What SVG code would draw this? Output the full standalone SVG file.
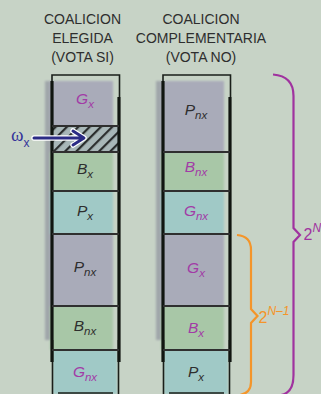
<svg xmlns="http://www.w3.org/2000/svg" width="321" height="394" viewBox="0 0 321 394">
  <defs>
    <style>
      .hdr { font-family: "Liberation Sans", Arial, sans-serif; font-size: 14px; fill: #2e2e2e; text-anchor: middle; }
      .lbl { font-family: "Liberation Sans", Arial, sans-serif; font-size: 15.5px; font-style: italic; text-anchor: middle; }
      .dark { fill: #2e2e2e; }
      .purp { fill: #a23ba6; }
      .sub { font-size: 11.5px; }
      .thick { stroke: #111611; stroke-width: 3.2; fill: none; }
      .thin { stroke: #1a1f1a; stroke-width: 1.6; fill: none; }
      .div { stroke: #2f2f2f; stroke-width: 2.2; }
      .gray { fill: #a9abb9; }
      .green { fill: #a8c7a7; }
      .teal { fill: #a0c9c6; }
      .brace { font-family: "Liberation Sans", Arial, sans-serif; font-size: 16px; }
    </style>
    <pattern id="hatch" width="8" height="8" patternUnits="userSpaceOnUse" patternTransform="rotate(45)">
      <rect width="8" height="8" fill="#a8b7b8"/>
      <rect x="0" y="0" width="2.2" height="8" fill="#2a2d2d"/>
    </pattern>
    <filter id="soft" x="-10%" y="-10%" width="120%" height="120%">
      <feGaussianBlur stdDeviation="1.2"/>
    </filter>
  </defs>

  <rect width="321" height="394" fill="#c7d3c6"/>

  <!-- column headers -->
  <g id="header-left">
    <text class="hdr" x="82.5" y="23.5">COALICION</text>
    <text class="hdr" x="82.5" y="42.5">ELEGIDA</text>
    <text class="hdr" x="82.5" y="61.5">(VOTA SI)</text>
  </g>
  <g id="header-right">
    <text class="hdr" x="201" y="23.5">COALICION</text>
    <text class="hdr" x="201" y="42.5">COMPLEMENTARIA</text>
    <text class="hdr" x="201" y="61.5">(VOTA NO)</text>
  </g>

  <!-- left column: elected coalition -->
  <g id="col-left">
    <g filter="url(#soft)">
      <rect x="45" y="81" width="68" height="259" fill="#a0a6aa"/>
      <rect class="gray" x="50" y="81" width="63" height="45"/>
      <rect class="green" x="50" y="152" width="63" height="39"/>
      <rect class="teal" x="50" y="191" width="63" height="43"/>
      <rect class="gray" x="50" y="234" width="63" height="72"/>
      <rect class="green" x="50" y="306" width="63" height="44"/>
      <rect class="teal" x="53" y="350" width="64" height="44"/>
    </g>
    <rect x="52" y="126" width="66" height="26" fill="url(#hatch)"/>
    <path class="thin" d="M52 94 V75 H119.5 V97 M52.5 340 V394 M118.5 340 V394 M58 393 H113"/>
    <path class="thick" d="M52 81 V362 M119 97 V362"/>
    <g class="div">
      <line x1="52" y1="126" x2="119" y2="126"/>
      <line x1="52" y1="152" x2="119" y2="152"/>
      <line x1="52" y1="191" x2="119" y2="191"/>
      <line x1="52" y1="234" x2="119" y2="234"/>
      <line x1="52" y1="306" x2="119" y2="306"/>
      <line x1="52" y1="350" x2="119" y2="350"/>
    </g>
  </g>

  <!-- right column: complementary coalition -->
  <g id="col-right">
    <g filter="url(#soft)">
      <rect x="156" y="81" width="68" height="259" fill="#a0a6aa"/>
      <rect class="gray" x="161" y="81" width="63" height="71"/>
      <rect class="green" x="161" y="152" width="63" height="39"/>
      <rect class="teal" x="161" y="191" width="63" height="43"/>
      <rect class="gray" x="161" y="234" width="63" height="72"/>
      <rect class="green" x="161" y="306" width="63" height="44"/>
      <rect class="teal" x="164" y="350" width="64" height="44"/>
    </g>
    <path class="thin" d="M163 94 V75 H230.5 V97 M163.5 340 V394 M229.5 340 V394 M169 393 H224"/>
    <path class="thick" d="M163 81 V362 M230 97 V362"/>
    <g class="div">
      <line x1="163" y1="152" x2="230" y2="152"/>
      <line x1="163" y1="191" x2="230" y2="191"/>
      <line x1="163" y1="234" x2="230" y2="234"/>
      <line x1="163" y1="306" x2="230" y2="306"/>
      <line x1="163" y1="350" x2="230" y2="350"/>
    </g>
  </g>

  <!-- cell labels, left column -->
  <g id="cell-l-gx"><text class="lbl purp" x="85" y="104">G<tspan class="sub" dy="4">x</tspan></text></g>
  <g id="cell-l-bx"><text class="lbl dark" x="85" y="174">B<tspan class="sub" dy="4">x</tspan></text></g>
  <g id="cell-l-px"><text class="lbl dark" x="85" y="216">P<tspan class="sub" dy="4">x</tspan></text></g>
  <g id="cell-l-pnx"><text class="lbl dark" x="85" y="272">P<tspan class="sub" dy="4">nx</tspan></text></g>
  <g id="cell-l-bnx"><text class="lbl dark" x="85" y="331">B<tspan class="sub" dy="4">nx</tspan></text></g>
  <g id="cell-l-gnx"><text class="lbl purp" x="85" y="377">G<tspan class="sub" dy="4">nx</tspan></text></g>

  <!-- cell labels, right column -->
  <g id="cell-r-pnx"><text class="lbl dark" x="196" y="115">P<tspan class="sub" dy="4">nx</tspan></text></g>
  <g id="cell-r-bnx"><text class="lbl purp" x="196" y="172">B<tspan class="sub" dy="4">nx</tspan></text></g>
  <g id="cell-r-gnx"><text class="lbl purp" x="196" y="216">G<tspan class="sub" dy="4">nx</tspan></text></g>
  <g id="cell-r-gx"><text class="lbl purp" x="196" y="273">G<tspan class="sub" dy="4">x</tspan></text></g>
  <g id="cell-r-bx"><text class="lbl purp" x="196" y="333">B<tspan class="sub" dy="4">x</tspan></text></g>
  <g id="cell-r-px"><text class="lbl dark" x="196" y="377">P<tspan class="sub" dy="4">x</tspan></text></g>

  <!-- omega marker -->
  <g id="omega">
    <text x="11" y="141" font-family="'Liberation Serif', 'DejaVu Serif', serif" font-size="19" fill="#35359a">ω<tspan font-family="'Liberation Sans', Arial, sans-serif" font-size="12" dy="6">x</tspan></text>
  </g>

  <!-- connectors -->
  <g id="connectors">
    <g fill="none" stroke-linecap="round" stroke-linejoin="round">
      <path d="M34 138 H83 M73 131 L84 138 L73 145" stroke="#ffffff" stroke-width="5.5"/>
      <path d="M34 138 H83 M73 131 L84 138 L73 145" stroke="#2b2b85" stroke-width="3"/>
    </g>
    <path d="M273 74.5 Q293.5 76 293.5 96 V228 L300 235 L293.5 242 V375 Q293.5 393 281 395" fill="none" stroke="#a0329f" stroke-width="2.2"/>
    <path d="M237 235 Q251 236 251 250 V309 L257.5 316 L251 323 V382 Q251 393 240 395" fill="none" stroke="#f4952a" stroke-width="2.2"/>
  </g>

  <!-- brace labels -->
  <g id="label-2n">
    <text class="brace" x="303.5" y="239.5" fill="#a0329f">2<tspan font-size="12" font-style="italic" dy="-7.5">N</tspan></text>
  </g>
  <g id="label-2n1">
    <text class="brace" x="258.5" y="322.5" fill="#f4952a">2<tspan font-size="12" font-style="italic" dy="-7.5">N–1</tspan></text>
  </g>
</svg>
